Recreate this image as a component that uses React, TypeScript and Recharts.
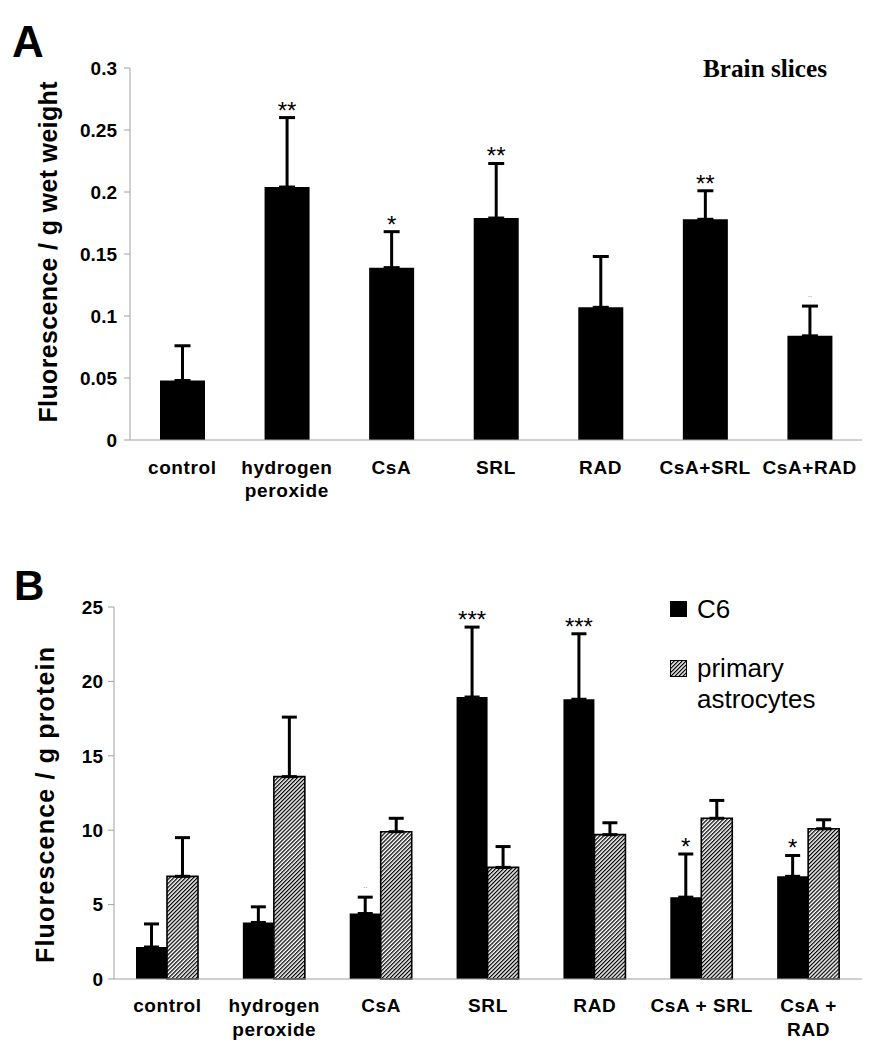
import React from 'react';
import { BarChart, Bar, XAxis, YAxis, ErrorBar, LabelList } from 'recharts';

// ---------- Panel A data ----------
const categoriesA = ['control', 'hydrogen\nperoxide', 'CsA', 'SRL', 'RAD', 'CsA+SRL', 'CsA+RAD'];
const meanA = [0.048, 0.204, 0.139, 0.179, 0.107, 0.178, 0.084];
const sdA = [0.028, 0.056, 0.029, 0.044, 0.041, 0.023, 0.024];
const sigA = ['', '**', '*', '**', '', '**', '..'];
const ticksA = [0, 0.05, 0.1, 0.15, 0.2, 0.25, 0.3];
const tickLabelsA = ['0', '0.05', '0.1', '0.15', '0.2', '0.25', '0.3'];

// ---------- Panel B data ----------
const categoriesB = ['control', 'hydrogen\nperoxide', 'CsA', 'SRL', 'RAD', 'CsA + SRL', 'CsA +\nRAD'];
const c6Mean = [2.15, 3.8, 4.4, 18.95, 18.8, 5.5, 6.9];
const c6Sd = [1.55, 1.05, 1.1, 4.7, 4.4, 2.9, 1.4];
const astroMean = [6.9, 13.6, 9.9, 7.5, 9.7, 10.8, 10.1];
const astroSd = [2.6, 4.0, 0.9, 1.4, 0.8, 1.2, 0.6];
const sigB = ['', '', '..', '***', '***', '*', '*'];
const ticksB = [0, 5, 10, 15, 20, 25];
const tickLabelsB = ['0', '5', '10', '15', '20', '25'];

const dataA = categoriesA.map((c, i) => ({ name: c, idx: i, mean: meanA[i], err: [0, sdA[i]] }));
const dataB = categoriesB.map((c, i) => ({
  name: c,
  idx: i,
  c6: c6Mean[i],
  c6err: [0, c6Sd[i]],
  astro: astroMean[i],
  astroerr: [0, astroSd[i]],
}));

const SANS = '"Liberation Sans", Arial, Helvetica, sans-serif';
const SERIF = '"Liberation Serif", "Times New Roman", serif';
const AXIS_GREY = '#a0a0a0';

const makeXTick = (dy1: number, lh: number) => (props: any) => {
  const { x, y, payload } = props;
  const lines = String(payload.value).split('\n');
  return (
    <text
      x={x}
      y={y}
      textAnchor="middle"
      fontFamily={SANS}
      fontWeight="bold"
      fontSize={19}
      letterSpacing={0.6}
      fill="#000"
    >
      {lines.map((l, i) => (
        <tspan key={i} x={x} y={y + dy1 + i * lh}>
          {l}
        </tspan>
      ))}
    </text>
  );
};

const makeSig = (means: number[], sds: number[], sigs: string[]) => (props: any) => {
  const vb = props.viewBox || {};
  const x = Number(props.x ?? vb.x);
  const y = Number(props.y ?? vb.y);
  const width = Number(props.width ?? vb.width);
  const height = Number(props.height ?? vb.height);
  const index = Number(props.value ?? props.index);
  const s = sigs[index];
  if (!s) return null;
  const ppu = Math.abs(height) / means[index];
  const top = y - sds[index] * ppu;
  const tiny = s === '..';
  return (
    <text
      x={x + width / 2}
      y={tiny ? top - 9 : top + 1}
      textAnchor="middle"
      fontFamily={SANS}
      fontSize={tiny ? 8 : 24}
      fill={tiny ? '#777' : '#000'}
    >
      {s}
    </text>
  );
};

const yTickStyle = { fontFamily: SANS, fontWeight: 'bold' as const, fontSize: 19, fill: '#000' };

export default function App() {
  return (
    <div style={{ position: 'absolute', left: 0, top: 0, width: 874, height: 1050, background: '#fff' }}>
      <svg width={0} height={0} style={{ position: 'absolute' }}>
        <defs>
          <pattern id="hatch" width={2.8} height={2.8} patternUnits="userSpaceOnUse" patternTransform="rotate(45)">
            <rect x={0} y={0} width={2.8} height={2.8} fill="#fff" />
            <rect x={0} y={0} width={1.25} height={2.8} fill="#000" />
          </pattern>
        </defs>
      </svg>

      <div style={{ position: 'absolute', left: 0, top: 0 }}>
        <BarChart width={874} height={520} data={dataA} margin={{ top: 68, right: 12, left: 0, bottom: 0 }} barGap={0}>
          <XAxis
            dataKey="name"
            height={80}
            axisLine={{ stroke: AXIS_GREY }}
            tickLine={false}
            tickSize={0}
            tickMargin={0}
            interval={0}
            tick={makeXTick(34, 23)}
          />
          <YAxis
            width={130}
            domain={[0, 0.3]}
            ticks={ticksA}
            tickFormatter={(v: number) => tickLabelsA[ticksA.indexOf(v)] ?? String(v)}
            axisLine={{ stroke: AXIS_GREY }}
            tickLine={{ stroke: AXIS_GREY }}
            tickSize={6}
            tickMargin={7}
            tick={yTickStyle}
            interval={0}
          />
          <Bar dataKey="mean" fill="#000" barSize={45} isAnimationActive={false}>
            <ErrorBar dataKey="err" direction="y" width={8} stroke="#000" strokeWidth={3} />
            <LabelList dataKey="idx" content={makeSig(meanA, sdA, sigA)} />
          </Bar>
        </BarChart>
      </div>

      <div style={{ position: 'absolute', left: 0, top: 520 }}>
        <BarChart width={874} height={530} data={dataB} margin={{ top: 87, right: 12, left: 0, bottom: 0 }} barGap={0}>
          <XAxis
            dataKey="name"
            height={71}
            axisLine={{ stroke: AXIS_GREY }}
            tickLine={false}
            tickSize={0}
            tickMargin={0}
            interval={0}
            tick={makeXTick(33, 24)}
          />
          <YAxis
            width={114}
            domain={[0, 25]}
            ticks={ticksB}
            tickFormatter={(v: number) => tickLabelsB[ticksB.indexOf(v)] ?? String(v)}
            axisLine={{ stroke: AXIS_GREY }}
            tickLine={{ stroke: AXIS_GREY }}
            tickSize={6}
            tickMargin={5}
            tick={yTickStyle}
            interval={0}
          />
          <Bar dataKey="c6" fill="#000" barSize={31} isAnimationActive={false}>
            <ErrorBar dataKey="c6err" direction="y" width={7.5} stroke="#000" strokeWidth={3} />
            <LabelList dataKey="idx" content={makeSig(c6Mean, c6Sd, sigB)} />
          </Bar>
          <Bar dataKey="astro" fill="url(#hatch)" stroke="#000" strokeWidth={1.6} barSize={31} isAnimationActive={false}>
            <ErrorBar dataKey="astroerr" direction="y" width={7.5} stroke="#000" strokeWidth={3} />
          </Bar>
        </BarChart>
      </div>

      <svg
        width={874}
        height={1050}
        style={{ position: 'absolute', left: 0, top: 0, pointerEvents: 'none' }}
      >
        <text x={12} y={57} fontFamily={SANS} fontWeight="bold" fontSize={44} fill="#000">A</text>
        <text x={14} y={600} fontFamily={SANS} fontWeight="bold" fontSize={42} fill="#000">B</text>

        <text
          transform="translate(57, 252) rotate(-90)"
          textAnchor="middle"
          fontFamily={SANS}
          fontWeight="bold"
          fontSize={25}
          textLength={341}
          lengthAdjust="spacing"
          fill="#000"
        >
          Fluorescence / g wet weight
        </text>
        <text
          transform="translate(54, 805) rotate(-90)"
          textAnchor="middle"
          fontFamily={SANS}
          fontWeight="bold"
          fontSize={25}
          textLength={316}
          lengthAdjust="spacing"
          fill="#000"
        >
          Fluorescence / g protein
        </text>

        <text x={703} y={77} fontFamily={SERIF} fontWeight="bold" fontSize={26} textLength={124} lengthAdjust="spacingAndGlyphs" fill="#000">
          Brain slices
        </text>

        <rect x={670} y={601} width={17} height={16} fill="#000" />
        <text x={697} y={618} fontFamily={SANS} fontSize={26} fill="#000">C6</text>
        <rect x={670.5} y={660.5} width={16} height={16} fill="url(#hatch)" stroke="#000" strokeWidth={1} />
        <text x={697} y={677} fontFamily={SANS} fontSize={26} fill="#000">primary</text>
        <text x={697} y={708} fontFamily={SANS} fontSize={26} fill="#000">astrocytes</text>
      </svg>
    </div>
  );
}
